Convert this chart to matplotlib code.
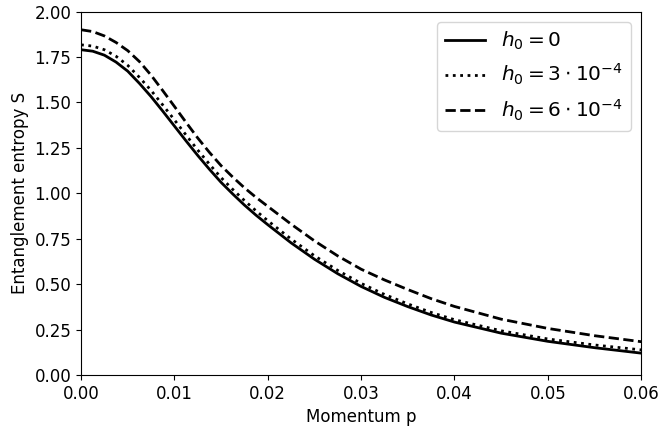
import matplotlib
matplotlib.use("Agg")
import matplotlib.pyplot as plt

plt.rcParams["font.size"] = 12

# Momentum grid and entropy curves for three field strengths
p = [0.0, 0.00125, 0.0025, 0.00375, 0.005, 0.00625, 0.0075, 0.00875,
     0.01, 0.01125, 0.0125, 0.01375, 0.015, 0.01625, 0.0175, 0.01875,
     0.02, 0.0225, 0.025, 0.0275, 0.03, 0.0325, 0.035, 0.0375, 0.04,
     0.045, 0.05, 0.055, 0.06]

s_h0 = [1.790, 1.782, 1.760, 1.722, 1.672, 1.605, 1.532, 1.452,
        1.370, 1.288, 1.208, 1.132, 1.060, 0.996, 0.935, 0.879,
        0.827, 0.727, 0.637, 0.557, 0.487, 0.427, 0.376, 0.330, 0.291,
        0.230, 0.185, 0.150, 0.120]

s_h3 = [1.817, 1.810, 1.790, 1.754, 1.704, 1.638, 1.566, 1.486,
        1.404, 1.320, 1.238, 1.160, 1.086, 1.021, 0.960, 0.903,
        0.849, 0.748, 0.656, 0.575, 0.504, 0.443, 0.391, 0.344, 0.304,
        0.243, 0.198, 0.165, 0.138]

s_h6 = [1.900, 1.890, 1.866, 1.830, 1.785, 1.725, 1.650, 1.565,
        1.478, 1.390, 1.304, 1.225, 1.152, 1.089, 1.030, 0.977,
        0.928, 0.830, 0.738, 0.655, 0.582, 0.523, 0.470, 0.420, 0.377,
        0.307, 0.256, 0.216, 0.183]

labels = [r"$h_0 = 0$", r"$h_0 = 3 \cdot 10^{-4}$", r"$h_0 = 6 \cdot 10^{-4}$"]

fig = plt.figure(figsize=(6.59, 4.29), dpi=100)
ax = fig.add_axes([0.123, 0.126, 0.850, 0.847])

ax.plot(p, s_h0, color="black", linestyle="-", linewidth=2, label=labels[0])
ax.plot(p, s_h3, color="black", linestyle=":", linewidth=2, label=labels[1])
ax.plot(p, s_h6, color="black", linestyle="--", linewidth=2, label=labels[2])

ax.set_xlim(0, 0.06)
ax.set_ylim(0, 2.0)
ax.set_xticks([0.0, 0.01, 0.02, 0.03, 0.04, 0.05, 0.06])
ax.set_xticklabels(["0.00", "0.01", "0.02", "0.03", "0.04", "0.05", "0.06"])
ax.set_yticks([0.0, 0.25, 0.5, 0.75, 1.0, 1.25, 1.5, 1.75, 2.0])
ax.set_yticklabels(["0.00", "0.25", "0.50", "0.75", "1.00", "1.25", "1.50", "1.75", "2.00"])

ax.set_xlabel("Momentum p")
ax.set_ylabel("Entanglement entropy S")
ax.legend(loc="upper right", fontsize=14.5)

fig.savefig("out.png", dpi=100)
